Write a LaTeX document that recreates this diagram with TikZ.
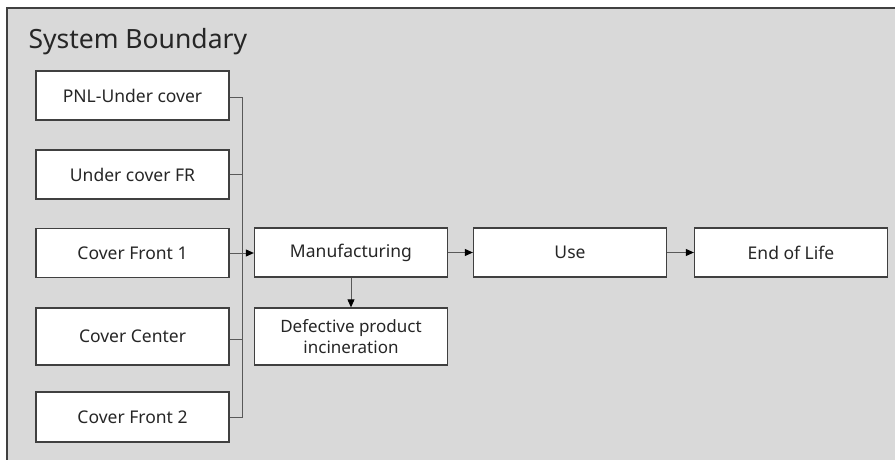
\documentclass[tikz,border=0pt]{standalone}
\usepackage{fontspec}
\setmainfont{Noto Sans}
\usetikzlibrary{arrows.meta}
\definecolor{bggrey}{HTML}{D9D9D9}
\definecolor{frame}{HTML}{404040}
\definecolor{wire}{HTML}{595959}
\definecolor{ink}{HTML}{262626}
\begin{document}
\begin{tikzpicture}[x=1pt,y=-1pt,
  procbox/.style={draw=frame,line width=1.3pt,fill=white,minimum width=193pt,minimum height=49pt,
    inner sep=0pt,font=\fontsize{17.5}{20}\selectfont,text=ink,align=center},
  link/.style={draw=wire,line width=0.9pt},
  flow/.style={link,-{Triangle[length=8pt,width=7pt,fill=black,color=black]}}]
\useasboundingbox (0,0) rectangle (895,460);
\draw[fill=bggrey,draw=frame,line width=2pt] (7,8) rectangle (900,470);
\node[anchor=base west,font=\fontsize{26.5}{30}\selectfont,text=ink] (title) at (25,49) {System Boundary};
\node[procbox] (pnl) at (132.5,95.5) {PNL-Under cover};
\node[procbox] (ucfr) at (132.5,174.5) {Under cover FR};
\node[procbox] (cf1) at (132.5,253) {Cover Front 1};
\node[procbox,minimum height=57pt] (cc) at (132.5,336.5) {Cover Center};
\node[procbox,minimum height=50pt] (cf2) at (132.5,417) {Cover Front 2};
\node[procbox] (mfg) at (351,252.5) {Manufacturing};
\node[procbox,minimum height=57pt,font=\fontsize{17}{20.5}\selectfont] (def) at (351,336.5) {Defective product\\incineration};
\node[procbox] (use) at (570,252.5) {Use};
\node[procbox] (eol) at (791,252.5) {End of Life};
\coordinate (bustop) at (242,97);
\coordinate (busbot) at (242,417);
\coordinate (busmid) at (242,253);
\draw[link] (pnl.east |- 0,97) -- (bustop) -- (busbot) -- (cf2.east);
\draw[link] (ucfr.east) -- (ucfr.east -| bustop);
\draw[link] (cf1.east) -- (busmid);
\draw[link] (cc.east |- 0,339) -- (242,339);
\draw[flow] (busmid) -- (mfg.west |- busmid);
\draw[flow] (mfg.south) -- (def.north);
\draw[flow] (mfg.east) -- (use.west);
\draw[flow] (use.east) -- (eol.west);
\end{tikzpicture}
\end{document}
